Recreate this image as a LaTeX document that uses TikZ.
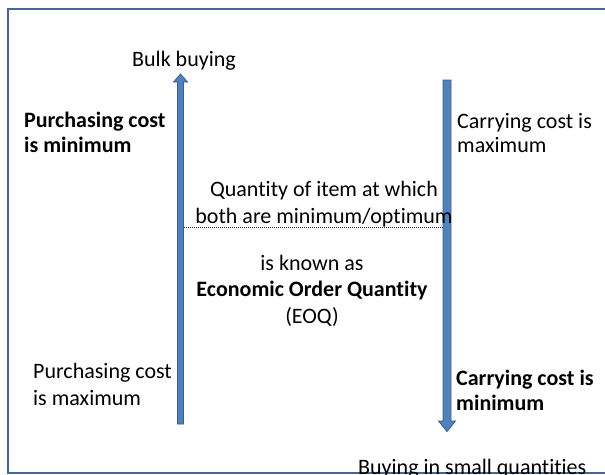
\documentclass[tikz,border=0pt]{standalone}
\usepackage{fontspec}
\setmainfont[Ligatures=NoCommon]{Carlito}
\definecolor{barfill}{HTML}{4F81BD}
\definecolor{barline}{HTML}{3A5F8E}
\definecolor{framec}{HTML}{4A6590}
\begin{document}
\begin{tikzpicture}[x=1pt,y=-1pt,
  txt/.style={inner sep=0pt, align=left, font=\fontsize{22}{26.5}\selectfont},
  ctxt/.style={inner sep=0pt, align=center, font=\fontsize{22}{26.5}\selectfont},
  bar/.style={fill=barfill, draw=barline, line width=0.8pt, line join=miter},
  dotline/.style={draw=black!80, line width=0.8pt, dash pattern=on 1pt off 1pt}]
\useasboundingbox (0,0) rectangle (605,474);
\draw[framec, line width=1.4pt] (640,9) -- (8,9) -- (8,473) -- (640,473);
% arrows
\draw[bar] (177.5,424) -- (177.5,82) -- (173.5,82) -- (180.5,74) -- (187.5,82) -- (183.5,82) -- (183.5,424) -- cycle;
\draw[bar] (443,80) -- (443,421) -- (438.5,421) -- (447,431.5) -- (455.5,421) -- (451,421) -- (451,80) -- cycle;
\coordinate (dl) at (183.5,227);
\coordinate (dr) at (443,227);
\draw[dotline] (dl) -- (dr);
% texts (base anchor = baseline of the last line)
\node[ctxt, anchor=base] (bulk) at (184,66) {Bulk buying};
\node[txt, anchor=base west, font=\fontsize{22}{25}\selectfont\bfseries] (pmin) at (24,152) {Purchasing cost\\is minimum};
\node[txt, anchor=base west, font=\fontsize{22}{24}\selectfont] (cmax) at (457,152) {Carrying cost is\\maximum};
\node[ctxt, anchor=base, font=\fontsize{22}{27}\selectfont] (qty) at (324,223) {Quantity of item at which\\both are minimum/optimum};
\node[ctxt, anchor=base] (known) at (312,323) {is known as\\\textbf{Economic Order Quantity}\\(EOQ)};
\node[txt, anchor=base west] (pmax) at (33,405) {Purchasing cost\\is maximum};
\node[txt, anchor=base west, font=\fontsize{22}{25}\selectfont\bfseries] (cmin) at (456,410) {Carrying cost is\\minimum};
\node[txt, anchor=base west] (small) at (358,474) {Buying in small quantities};
\end{tikzpicture}
\end{document}
